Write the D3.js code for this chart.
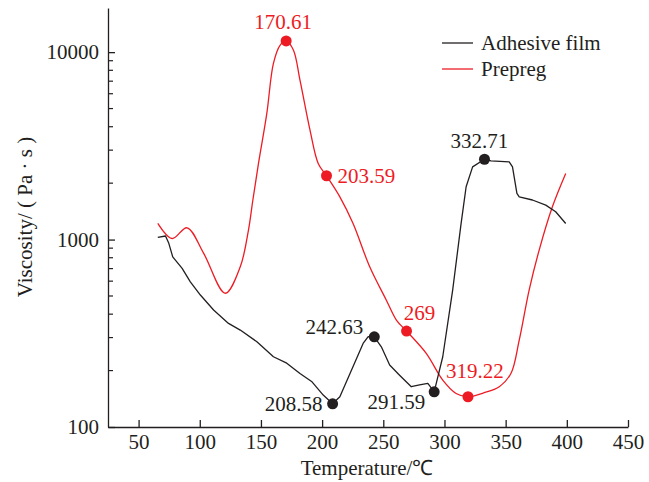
<!DOCTYPE html>
<html>
<head>
<meta charset="utf-8">
<script src="https://cdn.jsdelivr.net/npm/d3@7"></script>
<style>
  body { margin: 0; background: #fff; }
  svg text { font-family: "Liberation Serif", "Times New Roman", serif; }
</style>
</head>
<body>
<svg id="myGraph" width="649" height="482"></svg>
<script>
// data
var adhesiveTemp = [65.7, 72.0, 74.7, 77.9, 85.6, 92.3, 100.5, 111.3, 123.5, 133.1, 146.7, 160.2, 171.1, 181.9, 191.4, 200.9,
  208.58, 214.5, 225.3, 233.5, 237.5, 242.63, 248.4, 255.2, 263.3, 272.9, 279.6, 286.4, 291.59, 298.6, 306.7, 313.6,
  317.7, 323.0, 332.71, 338.0, 352.9, 355.6, 359.2, 361.1, 371.9, 382.8, 390.9, 399.1];
var adhesiveVisc = [1027, 1045, 955, 809, 702, 595, 506, 421, 357, 329, 285, 237, 219, 193, 175, 148,
  133, 145, 210, 279, 303, 303, 268, 214, 189, 164, 168, 171, 154, 237, 538, 1219,
  1914, 2444, 2683, 2630, 2600, 2444, 1762, 1690, 1626, 1527, 1407, 1219];

var prepregTemp = [65.7, 77.4, 89.6, 103.2, 120.8, 133.1, 139.8, 143.4, 148.0, 154.8, 160.2, 165.6, 170.61, 176.5, 181.9,
  190.1, 196.8, 203.59, 214.5, 225.3, 238.9, 252.5, 260.7, 269, 285.1, 298.6, 309.5, 319.22, 332, 344.8, 354.3,
  361.1, 369.2, 377.4, 388.2, 399.1];
var prepregVisc = [1219, 1013, 1156, 844, 517, 716, 1124, 1626, 2548, 4710, 8710, 10880, 11480, 10260, 7100,
  3840, 2548, 2190, 1690, 1219, 716, 475, 372, 325, 247, 178, 151, 145, 152, 164, 193,
  291, 538, 879, 1496, 2254];

var adhesiveMarkT = [208.58, 242.63, 291.59, 332.71];
var adhesiveMarkV = [133, 303, 154, 2683];
var adhesiveMarkLabel = ["208.58", "242.63", "291.59", "332.71"];

var prepregMarkT = [170.61, 203.59, 269, 319.22];
var prepregMarkV = [11480, 2190, 325, 145];
var prepregMarkLabel = ["170.61", "203.59", "269", "319.22"];

var xTicks = [50, 100, 150, 200, 250, 300, 350, 400, 450];
var yTicks = [100, 1000, 10000];
var yMinor = [200, 300, 400, 500, 600, 700, 800, 900, 2000, 3000, 4000, 5000, 6000, 7000, 8000, 9000];

var seriesNames = ["Adhesive film", "Prepreg"];
var red = "#ed1c24", dark = "#231f20";
var fontSize = "21px";

var svg = d3.select("#myGraph");
var plotLeft = 108, plotRight = 628, plotTop = 8, plotBottom = 427;

var x = d3.scaleLinear().domain([25, 450]).range([plotLeft, plotRight]);
var y = d3.scaleLog().domain([100, 17200]).range([plotBottom, plotTop]);

// axes
var xAxis = d3.axisBottom(x).tickValues(xTicks).tickSizeInner(-7).tickSizeOuter(0).tickPadding(7);
var yAxis = d3.axisLeft(y).tickValues(yTicks).tickFormat(d3.format("d")).tickSizeInner(-7).tickSizeOuter(0).tickPadding(9);

var gx = svg.append("g").attr("transform", "translate(0," + plotBottom + ")").call(xAxis);
var gy = svg.append("g").attr("transform", "translate(" + plotLeft + ",0)").call(yAxis);
[gx, gy].forEach(function(g){
  g.select(".domain").attr("stroke", dark).attr("stroke-width", 1.3);
  g.selectAll(".tick line").attr("stroke", dark).attr("stroke-width", 1.3);
  g.selectAll(".tick text").attr("fill", dark).style("font-size", fontSize).style("font-family", "Liberation Serif");
});

gy.selectAll("line.minor")
  .data(yMinor)
  .enter()
  .append("line")
  .attr("class", "minor")
  .attr("x1", 0).attr("x2", 5)
  .attr("y1", d => y(d)).attr("y2", d => y(d))
  .attr("stroke", dark).attr("stroke-width", 1.2);

// axis titles
svg.append("text")
  .attr("x", 367).attr("y", 475)
  .attr("text-anchor", "middle")
  .attr("fill", dark)
  .style("font-size", fontSize)
  .text("Temperature/℃");

svg.append("text")
  .attr("transform", "translate(32,217) rotate(-90)")
  .attr("text-anchor", "middle")
  .attr("fill", dark)
  .style("font-size", fontSize)
  .text("Viscosity/ ( Pa · s )");

// lines
var adhesive = adhesiveTemp.map((t, i) => [t, adhesiveVisc[i]]);
var prepreg = prepregTemp.map((t, i) => [t, prepregVisc[i]]);

var lineLin = d3.line().x(d => x(d[0])).y(d => y(d[1]));
var lineSmooth = d3.line().x(d => x(d[0])).y(d => y(d[1])).curve(d3.curveCatmullRom.alpha(0.5));

svg.append("path").datum(prepreg)
  .attr("d", lineSmooth)
  .attr("fill", "none").attr("stroke", red).attr("stroke-width", 1.3);

svg.append("path").datum(adhesive)
  .attr("d", lineLin)
  .attr("fill", "none").attr("stroke", dark).attr("stroke-width", 1.3)
  .attr("stroke-linejoin", "round");

// markers and labels
var adhesiveOffsets = [[-10, 7, "end"], [-11, -3, "end"], [-9, 17, "end"], [-5, -11, "middle"]];
var prepregOffsets = [[-3, -12, "middle"], [11, 7, "start"], [13, -11, "middle"], [7, -19, "middle"]];

function drawMarks(ts, vs, labels, offs, color){
  var g = svg.append("g");
  g.selectAll("circle")
    .data(ts)
    .enter()
    .append("circle")
    .attr("cx", d => x(d))
    .attr("cy", (d, i) => y(vs[i]))
    .attr("r", 5.5)
    .attr("fill", color);
  g.selectAll("text")
    .data(ts)
    .enter()
    .append("text")
    .attr("x", (d, i) => x(d) + offs[i][0])
    .attr("y", (d, i) => y(vs[i]) + offs[i][1])
    .attr("text-anchor", (d, i) => offs[i][2])
    .attr("fill", color)
    .style("font-size", fontSize)
    .text((d, i) => labels[i]);
}
drawMarks(prepregMarkT, prepregMarkV, prepregMarkLabel, prepregOffsets, red);
drawMarks(adhesiveMarkT, adhesiveMarkV, adhesiveMarkLabel, adhesiveOffsets, dark);

// legend
var legend = svg.append("g");
seriesNames.forEach(function(name, i){
  var ly = 43 + i * 26;
  var c = i == 0 ? dark : red;
  legend.append("line")
    .attr("x1", 442).attr("x2", 473)
    .attr("y1", ly).attr("y2", ly)
    .attr("stroke", c).attr("stroke-width", 1.3);
  legend.append("text")
    .attr("x", 481).attr("y", ly + 7)
    .attr("fill", dark)
    .style("font-size", fontSize)
    .text(name);
});
</script>
</body>
</html>
